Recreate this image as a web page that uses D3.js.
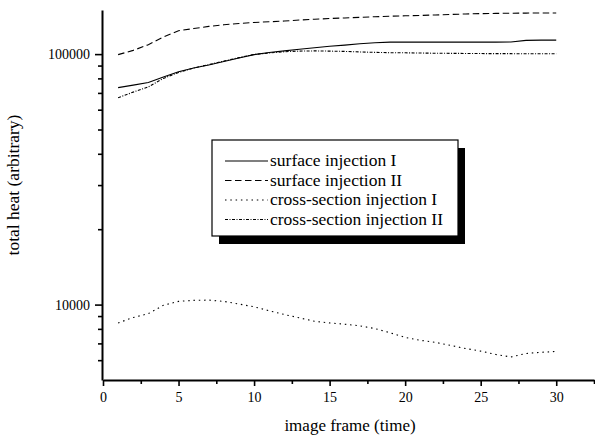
<!DOCTYPE html>
<html>
<head>
<meta charset="utf-8">
<script src="https://cdn.jsdelivr.net/npm/d3@7"></script>
<style>
  body { margin: 0; background: #fff; }
  svg text { font-family: "Liberation Serif", "Times New Roman", serif; fill: #000; }
</style>
</head>
<body>
<div id="chart"></div>
<script>
var width = 595,
    height = 439;

// frames 1..30
var frames = d3.range(1, 31);

var surfaceI = [73500, 75200, 77000, 81000, 85000, 88000, 90500, 93500, 96500, 99500,
                101500, 103000, 104500, 106000, 107500, 108600, 110000, 111000, 111600, 111600,
                111600, 111600, 111600, 111600, 111600, 111600, 111800, 113500, 113700, 113700];
var surfaceII = [99500, 103500, 109000, 117000, 124000, 126500, 129000, 131000, 132500, 133800,
                 134600, 135500, 136800, 137800, 138700, 139400, 140200, 141000, 141700, 142200,
                 142700, 143300, 144000, 144600, 145100, 145400, 145600, 145800, 145900, 146000];
var crossI = [8450, 8880, 9200, 9940, 10300, 10400, 10420, 10300, 10050, 9800,
              9450, 9130, 8850, 8580, 8450, 8350, 8230, 8020, 7720, 7400,
              7200, 7070, 6870, 6680, 6520, 6320, 6180, 6380, 6450, 6500];
var crossII = [67000, 70500, 74000, 80000, 84500, 88000, 90800, 93800, 96800, 99700,
               101000, 102200, 102800, 103000, 102800, 102500, 102000, 101600, 101300, 101200,
               101000, 100800, 100700, 100600, 100500, 100400, 100400, 100300, 100300, 100300];

var seriesNames = ["surface injection I", "surface injection II", "cross-section injection I", "cross-section injection II"];
var seriesValues = [surfaceI, surfaceII, crossI, crossII];
var seriesDash = [null, "6.5,3.5", "1.5,3.8", "3,1.5,1,1.5"];

var xMajor = [0, 5, 10, 15, 20, 25, 30];
var xMinor = [2.5, 7.5, 12.5, 17.5, 22.5, 27.5, 32.5];
var yMajor = [10000, 100000];
var yMinor = [6000, 7000, 8000, 9000, 20000, 30000, 40000, 50000, 60000, 70000, 80000, 90000];

var x = d3.scaleLinear().domain([0, 32.5]).range([103, 594]);
var y = d3.scaleLog().domain([5000, 150000]).range([380, 10]);

var svg = d3.select("#chart").append("svg")
    .attr("width", width)
    .attr("height", height);

// lines
var line = d3.line()
    .x(function(d) { return x(d[0]); })
    .y(function(d) { return y(d[1]); });

seriesValues.forEach(function(vals, i) {
    svg.append("path")
        .datum(frames.map(function(f, j) { return [f, vals[j]]; }))
        .attr("d", line)
        .attr("fill", "none")
        .attr("stroke", "#000")
        .attr("stroke-width", 1.1)
        .attr("stroke-dasharray", seriesDash[i]);
});

// axes
svg.append("g")
    .attr("transform", "translate(0,380)")
    .call(d3.axisBottom(x).tickValues(xMajor).tickSize(6).tickSizeOuter(0).tickPadding(6)
        .tickFormat(d3.format("d")));
svg.append("g")
    .attr("transform", "translate(0,380)")
    .call(d3.axisBottom(x).tickValues(xMinor).tickSize(4).tickFormat(""))
    .select(".domain").remove();

svg.append("g")
    .attr("transform", "translate(102,0)")
    .call(d3.axisLeft(y).tickValues(yMajor).tickSize(7).tickSizeOuter(0).tickPadding(5)
        .tickFormat(d3.format("d")));
svg.append("g")
    .attr("transform", "translate(102,0)")
    .call(d3.axisLeft(y).tickValues(yMinor).tickSize(4).tickFormat(""))
    .select(".domain").remove();

svg.selectAll(".domain").attr("stroke-width", 2).attr("stroke", "#000");
svg.selectAll(".tick line").attr("stroke-width", 1.6).attr("stroke", "#000");
svg.selectAll(".tick text")
    .style("font-family", "'Liberation Serif', serif")
    .style("font-size", "14px")
    .attr("fill", "#000");

// titles
svg.append("text")
    .attr("x", 350)
    .attr("y", 431)
    .attr("text-anchor", "middle")
    .style("font-size", "17px")
    .text("image frame (time)");

svg.append("text")
    .attr("transform", "translate(19,185) rotate(-90)")
    .attr("text-anchor", "middle")
    .style("font-size", "17.5px")
    .text("total heat (arbitrary)");

// legend
var lg = { x: 212, y: 140, w: 246, h: 96 };
svg.append("rect")
    .attr("x", lg.x + 7).attr("y", lg.y + 8)
    .attr("width", lg.w).attr("height", lg.h)
    .attr("fill", "#000");
svg.append("rect")
    .attr("x", lg.x).attr("y", lg.y)
    .attr("width", lg.w).attr("height", lg.h)
    .attr("fill", "#fff")
    .attr("stroke", "#000")
    .attr("stroke-width", 1.2);

seriesNames.forEach(function(name, i) {
    var cy = 161 + i * 19.5;
    svg.append("line")
        .attr("x1", 225).attr("x2", 268)
        .attr("y1", cy).attr("y2", cy)
        .attr("stroke", "#000")
        .attr("stroke-width", 1.1)
        .attr("stroke-dasharray", seriesDash[i]);
    svg.append("text")
        .attr("x", 270)
        .attr("y", cy + 5)
        .style("font-size", "17.5px")
        .text(name);
});
</script>
</body>
</html>
